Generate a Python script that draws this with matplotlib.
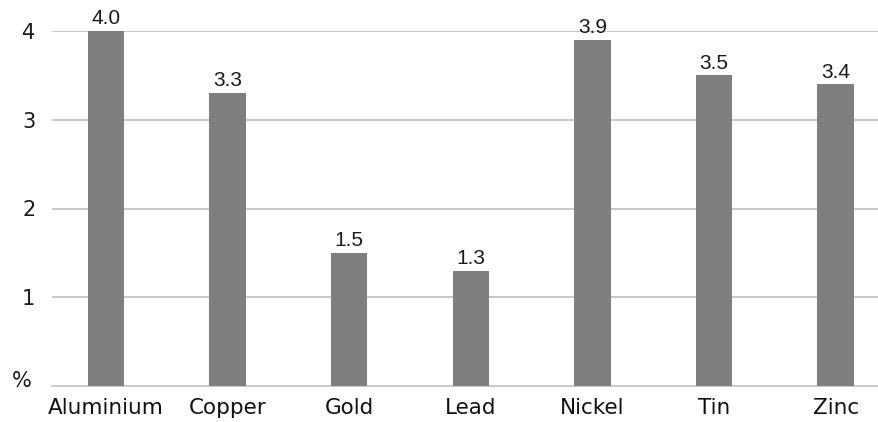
import matplotlib
matplotlib.use("Agg")
import matplotlib.pyplot as plt
from matplotlib import font_manager as fm

categories = ["Aluminium", "Copper", "Gold", "Lead", "Nickel", "Tin", "Zinc"]
values = [4.0, 3.3, 1.5, 1.3, 3.9, 3.5, 3.4]
yticks = [1, 2, 3, 4]

names = {f.name for f in fm.fontManager.ttflist}
narrow = "Liberation Sans Narrow" if "Liberation Sans Narrow" in names else "Liberation Sans"
plt.rcParams['font.family'] = ['DejaVu Sans']

fig = plt.figure(figsize=(8.79, 4.22), dpi=100)
ax = fig.add_axes([52/879, 1-386/422, (879-52)/879, (386-31)/422])
ax.set_ylim(0, 4.0)

x = list(range(len(categories)))
ax.bar(x, values, width=0.30, color="#7f7f7f", zorder=3)
for xi, v in zip(x, values):
    ax.text(xi, v + 0.03, f"{v:.1f}", ha="center", va="bottom",
            fontsize=15, family=[narrow, 'DejaVu Sans'], color="#1a1a1a", zorder=4)

ax.set_xlim(-0.444, 6.357)
ax.set_yticks(yticks)
ax.set_yticklabels([str(t) for t in yticks])
ax.yaxis.grid(True, color="#c4c4c4", linewidth=1.3, zorder=0)
ax.set_axisbelow(True)
for s in ["top", "right", "left"]:
    ax.spines[s].set_visible(False)
ax.spines["bottom"].set_color("#c4c4c4")
ax.spines["bottom"].set_linewidth(1.3)
ax.tick_params(axis="y", length=0, pad=12, labelsize=15, labelcolor="#1a1a1a")
ax.tick_params(axis="x", length=0, pad=9, labelsize=15.5, labelcolor="#111111")
ax.set_xticks(x)
ax.set_xticklabels(categories)
ax.text(22/879, 1 - 381/422, "%", transform=fig.transFigure, ha="center", va="center",
        fontsize=15, color="#1a1a1a")

fig.savefig("out.png", dpi=100)
